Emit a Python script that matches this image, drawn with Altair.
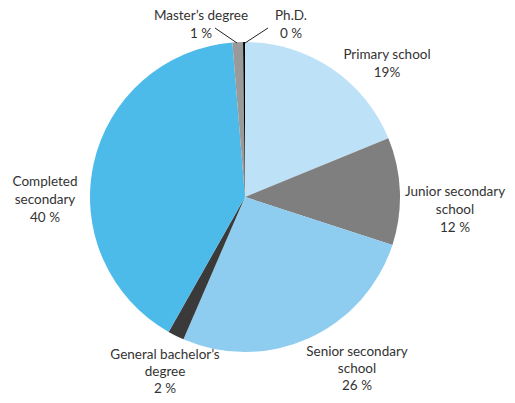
import altair as alt
import pandas as pd

categories = ["Primary school", "Junior secondary\nschool", "Senior secondary\nschool",
              "General bachelor\u2019s\ndegree", "Completed\nsecondary", "Master\u2019s degree", "Ph.D."]
values = [18.8, 11.2, 26.5, 1.7, 40.5, 1.1, 0.2]
pct_labels = ["19%", "12 %", "26 %", "2 %", "40 %", "1 %", "0 %"]
colors = ["#bde1f6", "#7f7f7f", "#8ecdf0", "#3a3a3a", "#4dbbea", "#9a9a9a", "#000000"]

df = pd.DataFrame({
    "idx": list(range(len(categories))),
    "cat": categories,
    "value": values,
    "label": [c + "\n" + p for c, p in zip(categories, pct_labels)],
})

CX, CY = 237, 189
base = alt.Chart(df)

pie = base.mark_arc(outerRadius=155, stroke=None).encode(
    theta=alt.Theta("value:Q", stack=True),
    order=alt.Order("idx:Q"),
    color=alt.Color("cat:N", scale=alt.Scale(domain=categories, range=colors), legend=None),
    x=alt.value(CX), y=alt.value(CY),
)

# label block centres relative to pie centre, and line heights (layout only)
offsets = [(142, -133, 18), (210, 13, 18), (112, 172, 17), (-80, 175, 17),
           (-200, 3, 18), (-44, -172, 18), (46, -172, 18)]

layers = [pie]
for cat, lab, (dx, dy, lh) in zip(categories, df["label"], offsets):
    nlines = lab.count("\n") + 1
    layers.append(
        base.transform_filter(alt.datum.cat == cat).mark_text(
            font="Lato", fontSize=13.5, color="#333333", lineBreak="\n", lineHeight=lh,
            align="center", baseline="middle", dx=dx, dy=dy - lh * (nlines - 1) / 2,
        ).encode(text="label:N", x=alt.value(CX), y=alt.value(CY))
    )

kdf = pd.DataFrame({"k": [0]})
leader = alt.Chart(kdf).mark_rule(color="#222222", strokeWidth=1).encode(
    x=alt.value(207), x2=alt.value(229), y=alt.value(20), y2=alt.value(35)
)
leader2 = alt.Chart(kdf).mark_rule(color="#222222", strokeWidth=1).encode(
    x=alt.value(260), x2=alt.value(237), y=alt.value(20), y2=alt.value(35)
)
layers += [leader, leader2]

chart = alt.layer(*layers).properties(
    width=499, height=388, padding=0, autosize=alt.AutoSizeParams(type="none")
).configure_view(stroke=None)

chart.save("out.html", embed_options={"renderer": "svg", "actions": False})
